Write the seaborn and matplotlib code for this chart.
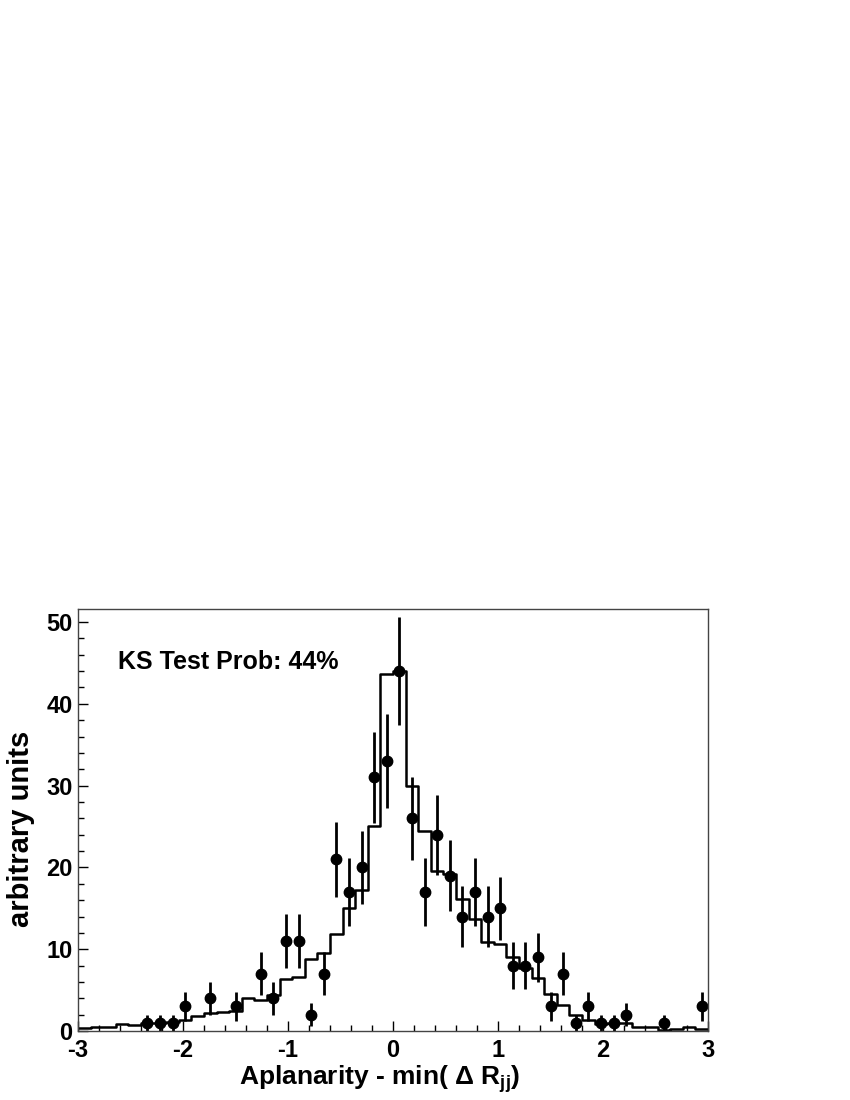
import numpy as np
import pandas as pd
import seaborn as sns
import matplotlib.pyplot as plt
from matplotlib.ticker import MultipleLocator

# 50 bins of width 0.12 between -3 and 3
bin_edges = np.round(np.linspace(-3, 3, 51), 2)
bin_centers = np.round((bin_edges[:-1] + bin_edges[1:]) / 2, 2)

# simulation (histogram), one value per bin
mc_values = [0.4, 0.55, 0.45, 0.85, 0.7, 1.0, 1.0, 1.1, 1.4, 1.8,
             2.25, 2.3, 2.4, 4.0, 3.8, 4.4, 6.35, 6.6, 8.8, 9.6,
             11.85, 15.0, 17.3, 25.1, 43.6, 44.0, 30.0, 24.5, 19.6, 19.2,
             16.1, 13.65, 10.85, 10.6, 9.0, 7.65, 6.5, 4.5, 3.2, 2.0,
             1.35, 0.9, 1.0, 1.0, 0.55, 0.45, 0.15, 0.25, 0.5, 0.3]

# data points
data_x = [-2.34, -2.22, -2.10, -1.98, -1.74, -1.50, -1.26, -1.14, -1.02, -0.90,
          -0.78, -0.66, -0.54, -0.42, -0.30, -0.18, -0.06, 0.06, 0.18, 0.30,
          0.42, 0.54, 0.66, 0.78, 0.90, 1.02, 1.14, 1.26, 1.38, 1.50,
          1.62, 1.74, 1.86, 1.98, 2.10, 2.22, 2.58, 2.94]
data_y = [1, 1, 1, 3, 4, 3, 7, 4, 11, 11,
          2, 7, 21, 17, 20, 31, 33, 44, 26, 17,
          24, 19, 14, 17, 14, 15, 8, 8, 9, 3,
          7, 1, 3, 1, 1, 2, 1, 3]

sns.set_style("ticks")
plt.rcParams['font.family'] = ['Liberation Sans', 'DejaVu Sans']
plt.rcParams['font.weight'] = 'bold'
plt.rcParams['axes.unicode_minus'] = False
plt.rcParams['text.color'] = 'black'
plt.rcParams['axes.labelcolor'] = 'black'
plt.rcParams['xtick.color'] = 'black'
plt.rcParams['ytick.color'] = 'black'
plt.rcParams['mathtext.fontset'] = 'custom'
plt.rcParams['mathtext.rm'] = 'Liberation Sans:bold'
plt.rcParams['mathtext.it'] = 'Liberation Sans:bold'
plt.rcParams['mathtext.bf'] = 'Liberation Sans:bold'

fig = plt.figure(figsize=(8.5, 11), dpi=100)
ax = fig.add_axes([0.0918, 0.0627, 0.7412, 0.3837])

mc = pd.DataFrame({"x": bin_centers, "w": mc_values})
sns.histplot(data=mc, x="x", weights="w", bins=list(bin_edges), element="step",
             fill=False, color="black", linewidth=1.8, ax=ax)

ax.errorbar(data_x, data_y, yerr=np.sqrt(data_y), fmt="o", color="black",
            markersize=7.5, elinewidth=2, capsize=0)

ax.set_xlim(-3, 3)
ax.set_ylim(0, 51.6)
ax.xaxis.set_major_locator(MultipleLocator(1))
ax.xaxis.set_minor_locator(MultipleLocator(0.2))
ax.yaxis.set_major_locator(MultipleLocator(10))
ax.yaxis.set_minor_locator(MultipleLocator(2))
ax.tick_params(which="both", direction="in", top=False, right=False,
               labelsize=17, width=1)
ax.tick_params(which="major", length=7)
ax.tick_params(which="minor", length=4)
ax.tick_params(axis="x", pad=6)
ax.tick_params(axis="y", pad=4)
for lbl in ax.get_xticklabels() + ax.get_yticklabels():
    lbl.set_fontweight("bold")
for sp in ax.spines.values():
    sp.set_linewidth(1.0)
    sp.set_color("#444444")

ax.set_xlabel("Aplanarity - min( Δ R$_{jj}$)", fontsize=19, fontweight="bold")
ax.xaxis.set_label_coords(0.479, -0.077)
ax.set_ylabel("arbitrary units", fontsize=21, fontweight="bold")
ax.yaxis.set_label_coords(-0.069, 0.48)
ax.text(0.063, 0.857, "KS Test Prob: 44%", transform=ax.transAxes,
        fontsize=18, fontweight="bold")

fig.savefig("out.png", dpi=100)
